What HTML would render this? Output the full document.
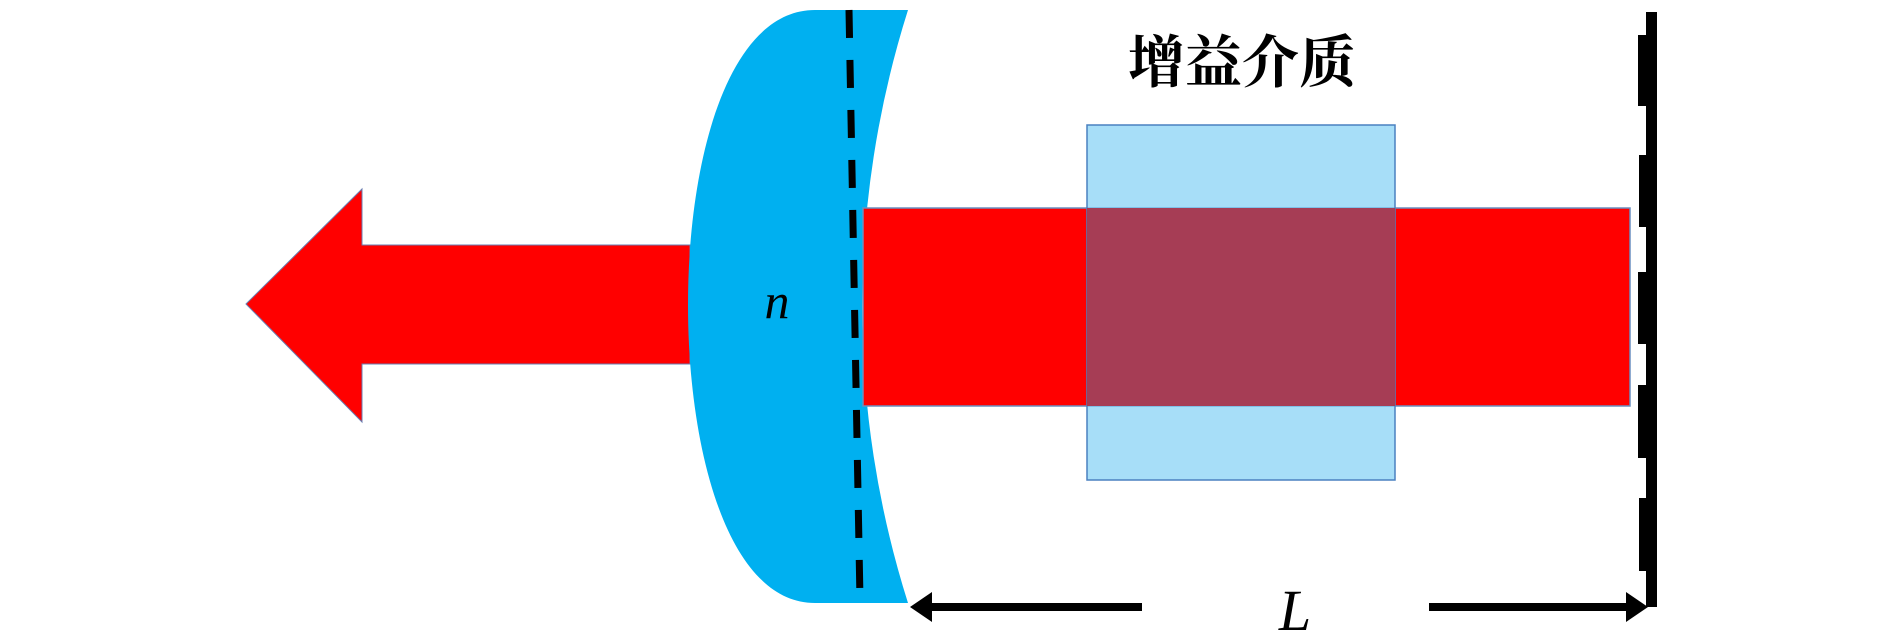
<!DOCTYPE html>
<html><head><meta charset="utf-8"><style>body{margin:0;background:#fff}svg{display:block}</style></head>
<body>
<svg width="1890" height="638" viewBox="0 0 1890 638" xmlns="http://www.w3.org/2000/svg">
<polygon points="246,304 362,189 362,245 690,245 690,364 362,364 362,422" fill="#ff0000" stroke="#6a7db0" stroke-width="1"/>
<path d="M815,10 C728,10 688,160 688,305 C688,450 728,603 815,603 L908,603 A982,982 0 0 1 908,10 Z" fill="#00b0f0"/>
<rect x="863" y="208" width="767" height="198" fill="#ff0000" stroke="#6a8fc0" stroke-width="1.5"/>
<rect x="1087" y="125" width="308" height="355" fill="rgba(120,205,245,0.65)" stroke="#4a80c0" stroke-width="1.5"/>
<rect x="1087" y="208" width="308" height="198" fill="#a63d55"/>
<line x1="849" y1="10" x2="860" y2="600" stroke="#000" stroke-width="7" stroke-dasharray="28,22"/>
<rect x="1646" y="12" width="11" height="595" fill="#000"/>
<rect x="1638" y="35" width="9" height="71" fill="#000"/>
<rect x="1639" y="155" width="8" height="72" fill="#000"/>
<rect x="1638" y="272" width="9" height="72" fill="#000"/>
<rect x="1638" y="385" width="9" height="73" fill="#000"/>
<rect x="1639" y="498" width="8" height="73" fill="#000"/>
<line x1="1142" y1="607" x2="930" y2="607" stroke="#000" stroke-width="8"/>
<polygon points="910,607 932,592 932,622" fill="#000"/>
<line x1="1429" y1="607" x2="1628" y2="607" stroke="#000" stroke-width="8"/>
<polygon points="1648,607 1626,592 1626,622" fill="#000"/>
<text x="1242" y="82" font-family="'Liberation Serif','Noto Serif CJK SC',serif" font-size="57" font-weight="bold" text-anchor="middle">增益介质</text>
<text x="777" y="318" font-family="'Liberation Serif',serif" font-style="italic" font-size="50" text-anchor="middle">n</text>
<text x="1295" y="630" font-family="'Liberation Serif',serif" font-style="italic" font-size="58" text-anchor="middle">L</text>
</svg>
</body></html>
